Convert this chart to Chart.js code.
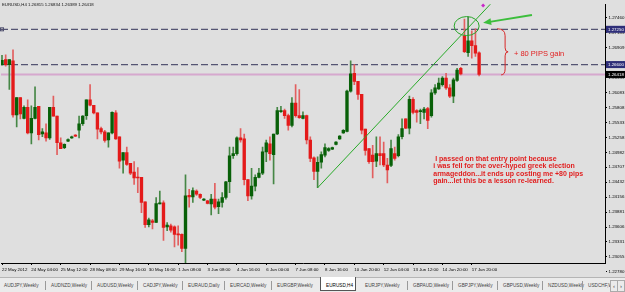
<!DOCTYPE html>
<html>
<head>
<meta charset="utf-8">
<script src="https://cdn.jsdelivr.net/npm/chart.js@4.4.0/dist/chart.umd.min.js"></script>
<style>
  html, body { margin: 0; padding: 0; background: #dfdfdf; }
  #wrap { position: relative; width: 625px; height: 292px; overflow: hidden; background: #dfdfdf; }
  #c { position: absolute; left: 0; top: 0; }
  #tabs { position: absolute; left: 0; top: 277px; width: 625px; height: 15px; background: #ebebeb;
          border-top: 1px solid #b5b5b5; font: 4.7px "Liberation Sans", Arial, sans-serif; color: #444; }
  .tab { position: absolute; top: 4.5px; white-space: nowrap; }
  .sep { position: absolute; top: 3px; width: 1px; height: 9px; background: #9a9a9a; }
  .act { position: absolute; top: -1px; left: 320px; width: 34px; height: 13px; background: #fff;
         border: 1px solid #555; border-top: none; }
  .arr { position: absolute; top: 2px; width: 6px; height: 10px; background: #ebebeb; border: 1px solid #aaa;
         font-size: 6px; line-height: 10px; text-align: center; }
</style>
</head>
<body>
<div id="wrap">
  <canvas id="c" width="625" height="277"></canvas>
  <div id="tabs"></div>
</div>
<script>
// EURUSD H4 candles, oldest first
const open = [
  1.2660, 1.2669, 1.2660, 1.2667, 1.2567, 1.2599, 1.2561, 1.2581, 1.2534, 1.2561,
  1.2583, 1.2532, 1.2534, 1.2525, 1.2581, 1.2565, 1.2516, 1.2507, 1.2519, 1.2525,
  1.2530, 1.2539, 1.2551, 1.2566, 1.2595, 1.2585, 1.2571, 1.2542, 1.2536, 1.2521,
  1.2534, 1.2571, 1.2527, 1.2484, 1.2498, 1.2478, 1.2462, 1.2452, 1.2452, 1.2407,
  1.2365, 1.2372, 1.2369, 1.2403, 1.2405, 1.2361, 1.2363, 1.2361, 1.2347, 1.2347,
  1.2321, 1.2419, 1.2416, 1.2427, 1.2421, 1.2410, 1.2409, 1.2403, 1.2412, 1.2398,
  1.2406, 1.2415, 1.2444, 1.2492, 1.2496, 1.2525, 1.2523, 1.2448, 1.2418, 1.2436,
  1.2452, 1.2460, 1.2499, 1.2514, 1.2494, 1.2532, 1.2573, 1.2575, 1.2566, 1.2548,
  1.2589, 1.2566, 1.2561, 1.2566, 1.2521, 1.2488, 1.2463, 1.2480, 1.2493, 1.2502,
  1.2504, 1.2513, 1.2523, 1.2534, 1.2537, 1.2611, 1.2644, 1.2629, 1.2605, 1.2541,
  1.2505, 1.2493, 1.2482, 1.2496, 1.2496, 1.2475, 1.2474, 1.2496, 1.2492, 1.2527,
  1.2560, 1.2543, 1.2596, 1.2575, 1.2573, 1.2572, 1.2579, 1.2566, 1.2608, 1.2615,
  1.2623, 1.2635, 1.2617, 1.2602, 1.2631, 1.2653, 1.2713, 1.2682, 1.2704, 1.2695,
  1.26815
];
const high = [
  1.2677, 1.2678, 1.2669, 1.2687, 1.2599, 1.2599, 1.2584, 1.2595, 1.2584, 1.2619,
  1.2583, 1.2542, 1.2551, 1.2581, 1.2602, 1.2565, 1.2525, 1.2514, 1.2523, 1.2528,
  1.2531, 1.2565, 1.2566, 1.2595, 1.2623, 1.2585, 1.2571, 1.2545, 1.2539, 1.2534,
  1.2573, 1.2575, 1.2527, 1.2498, 1.2508, 1.2478, 1.2481, 1.2470, 1.2452, 1.2407,
  1.2377, 1.2375, 1.2415, 1.2427, 1.2409, 1.2369, 1.2366, 1.2363, 1.2363, 1.2348,
  1.2457, 1.2430, 1.2433, 1.2429, 1.2422, 1.2413, 1.2410, 1.2421, 1.2441, 1.2412,
  1.2424, 1.2445, 1.2508, 1.2508, 1.2527, 1.2542, 1.2532, 1.2448, 1.2469, 1.2457,
  1.2469, 1.2508, 1.2521, 1.2527, 1.2532, 1.2581, 1.2583, 1.2578, 1.2569, 1.2599,
  1.2623, 1.2614, 1.2573, 1.2567, 1.2527, 1.2490, 1.2490, 1.2499, 1.2514, 1.2507,
  1.2508, 1.2518, 1.2529, 1.2540, 1.2613, 1.2667, 1.2660, 1.2629, 1.2605, 1.2541,
  1.2505, 1.2511, 1.2527, 1.2527, 1.2517, 1.2487, 1.2521, 1.2508, 1.2531, 1.2560,
  1.2560, 1.2602, 1.2599, 1.2577, 1.2578, 1.2581, 1.2581, 1.2614, 1.2623, 1.2635,
  1.2638, 1.2644, 1.2623, 1.2635, 1.2653, 1.2655, 1.2744, 1.2748, 1.2722, 1.2726,
  1.26834
];
const low = [
  1.2659, 1.2657, 1.2614, 1.2563, 1.2545, 1.2560, 1.2560, 1.2532, 1.2514, 1.2560,
  1.2521, 1.2527, 1.2519, 1.2522, 1.2565, 1.2494, 1.2505, 1.2505, 1.2518, 1.2524,
  1.2527, 1.2525, 1.2548, 1.2559, 1.2584, 1.2569, 1.2523, 1.2532, 1.2517, 1.2508,
  1.2532, 1.2522, 1.2469, 1.2460, 1.2474, 1.2457, 1.2439, 1.2424, 1.2387, 1.2360,
  1.2361, 1.2357, 1.2369, 1.2403, 1.2336, 1.2354, 1.2351, 1.2324, 1.2327, 1.2315,
  1.2291, 1.2397, 1.2406, 1.2419, 1.2413, 1.2409, 1.2403, 1.2383, 1.2394, 1.2385,
  1.2397, 1.2412, 1.2424, 1.2487, 1.2493, 1.2517, 1.2438, 1.2409, 1.2412, 1.2427,
  1.2451, 1.2457, 1.2481, 1.2484, 1.2440, 1.2531, 1.2572, 1.2561, 1.2539, 1.2545,
  1.2563, 1.2561, 1.2560, 1.2514, 1.2481, 1.2448, 1.2433, 1.2469, 1.2490, 1.2500,
  1.2503, 1.2512, 1.2522, 1.2533, 1.2536, 1.2609, 1.2623, 1.2596, 1.2532, 1.2493,
  1.2478, 1.2451, 1.2472, 1.2475, 1.2472, 1.2442, 1.2472, 1.2484, 1.2490, 1.2523,
  1.2542, 1.2532, 1.2569, 1.2554, 1.2551, 1.2560, 1.2542, 1.2563, 1.2605, 1.2614,
  1.2620, 1.2614, 1.2599, 1.2590, 1.2629, 1.2641, 1.2682, 1.2675, 1.2672, 1.2675,
  1.26389
];
const close = [
  1.2668, 1.2660, 1.2669, 1.2567, 1.2599, 1.2569, 1.2581, 1.2534, 1.2561, 1.2581,
  1.2531, 1.2536, 1.2525, 1.2581, 1.2565, 1.2516, 1.2505, 1.2513, 1.2522, 1.2527,
  1.2528, 1.2551, 1.2565, 1.2595, 1.2585, 1.2571, 1.2541, 1.2536, 1.2520, 1.2534,
  1.2572, 1.2523, 1.2482, 1.2498, 1.2476, 1.2460, 1.2451, 1.2451, 1.2406, 1.2365,
  1.2374, 1.2369, 1.2404, 1.2405, 1.2360, 1.2364, 1.2355, 1.2347, 1.2346, 1.2321,
  1.2418, 1.2416, 1.2428, 1.2421, 1.2415, 1.2412, 1.2404, 1.2412, 1.2397, 1.2407,
  1.2415, 1.2444, 1.2492, 1.2496, 1.2525, 1.2521, 1.2448, 1.2418, 1.2436, 1.2452,
  1.2460, 1.2499, 1.2516, 1.2496, 1.2532, 1.2575, 1.2575, 1.2566, 1.2548, 1.2589,
  1.2566, 1.2562, 1.2566, 1.2521, 1.2487, 1.2463, 1.2480, 1.2494, 1.2507, 1.2505,
  1.2507, 1.2517, 1.2528, 1.2539, 1.2611, 1.2643, 1.2629, 1.2605, 1.2539, 1.2502,
  1.2481, 1.2481, 1.2496, 1.2492, 1.2475, 1.2466, 1.2505, 1.2487, 1.2527, 1.2542,
  1.2543, 1.2596, 1.2572, 1.2572, 1.2575, 1.2578, 1.2557, 1.2608, 1.2617, 1.2626,
  1.2635, 1.2617, 1.2602, 1.2632, 1.2650, 1.2643, 1.2684, 1.2704, 1.2695, 1.2681,
  1.26418
];

const timeLabels = ["22 May 2012", "24 May 04:00", "25 May 12:00", "28 May 08:00", "29 May 16:00",
  "30 May 16:00", "1 Jun 08:00", "3 Jun 08:00", "4 Jun 16:00", "6 Jun 00:00", "7 Jun 08:00",
  "8 Jun 16:00", "10 Jun 20:00", "12 Jun 04:00", "13 Jun 12:00", "14 Jun 20:00", "17 Jun 20:00"];
const timeBars = [1, 9, 17, 25, 33, 41, 49, 57, 65, 73, 81, 89, 97, 105, 113, 121, 129];

const priceTicks = ["1.27460", "1.27185", "1.26909", "1.26634", "1.26359", "1.26083", "1.25808",
  "1.25533", "1.25258", "1.24982", "1.24707", "1.24432", "1.24156", "1.23881", "1.23606",
  "1.23331", "1.23055", "1.22780"];

// horizontal levels drawn on the chart
const entryLevel = 1.27250;
const supportLevel = 1.26600;
const bidLevel = close[close.length - 1];

// trend line from the 14 Jun low up through the gap
const trendFrom = { bar: 87, price: 1.2433 };
const trendTo = { bar: 140, price: 1.2814 };

const tabNames = ["AUDJPY,Weekly", "AUDNZD,Weekly", "AUDUSD,Weekly", "CADJPY,Weekly", "EURAUD,Daily",
  "EURCAD,Weekly", "EURGBP,Weekly", "EURUSD,H4", "EURJPY,Weekly", "GBPAUD,Weekly", "GBPJPY,Weekly",
  "GBPUSD,Weekly", "NZDUSD,Weekly", "USDCHF,Weekly"];
const tabLeft = [4, 51, 97, 143, 188, 230, 277, 326, 365, 413, 458, 503, 548, 588];

const noteLines = [" I passed on that entry point because", "i was fell for the over-hyped greek election",
  "armageddon...it ends up costing me +80 pips", "gain...let this be a lesson re-learned."];

const X_MIN = 0.728, X_MAX = 165.3;
const Y_MIN = 1.22943, Y_MAX = 1.27714;

const GREEN = "rgb(8,96,8)", RED = "rgb(228,26,26)";
const GREEN_W = "rgb(70,135,70)", RED_W = "rgb(226,95,95)";

const bars = open.map((_, i) => i + 1);
const isUp = open.map((o, i) => close[i] >= o);

// tab strip
const tabs = document.getElementById("tabs");
tabs.innerHTML = '<div class="act"></div>';
tabNames.forEach((name, i) => {
  const t = document.createElement("div");
  t.className = "tab";
  t.style.left = tabLeft[i] + "px";
  t.textContent = name;
  if (name === "EURUSD,H4") t.style.color = "#000";
  tabs.appendChild(t);
  if (i < tabNames.length - 1 && i !== 6 && i !== 7) {
    const s = document.createElement("div");
    s.className = "sep";
    s.style.left = (tabLeft[i + 1] - 6) + "px";
    tabs.appendChild(s);
  }
});
tabs.insertAdjacentHTML("beforeend",
  '<div class="arr" style="left:610px">&#8249;</div><div class="arr" style="left:617px">&#8250;</div>');

const extras = {
  id: "extras",
  afterDraw(chart) {
    const { ctx, scales: { x, y } } = chart;
    const px = (v) => x.getPixelForValue(v);
    const py = (v) => y.getPixelForValue(v);
    ctx.save();

    // symbol header
    ctx.fillStyle = "#111";
    ctx.font = '4.3px "Liberation Sans", Arial, sans-serif';
    ctx.textBaseline = "middle";
    ctx.textAlign = "left";
    ctx.fillText("EURUSD,H4 1.26815 1.26834 1.26389 1.26418", 2, 5);

    // start marker of the upper level line
    ctx.strokeStyle = "rgb(80,80,110)";
    ctx.lineWidth = 1;
    ctx.strokeRect(0.5, py(entryLevel) - 1.5, 3, 3);

    // circle around the missed entry
    ctx.strokeStyle = "rgb(40,165,40)";
    ctx.lineWidth = 1;
    ctx.beginPath();
    ctx.ellipse(px(127.6), py(1.2731), 12.5, 9.5, 0, 0, Math.PI * 2);
    ctx.stroke();

    // arrow pointing at it
    const ax0 = px(145.4), ay0 = py(1.27514), ax1 = px(132.1), ay1 = py(1.27369);
    const ang = Math.atan2(ay1 - ay0, ax1 - ax0);
    ctx.strokeStyle = "rgb(60,190,60)";
    ctx.fillStyle = "rgb(60,190,60)";
    ctx.lineWidth = 1.8;
    ctx.beginPath();
    ctx.moveTo(ax0, ay0);
    ctx.lineTo(ax1 - 5 * Math.cos(ang), ay1 - 5 * Math.sin(ang));
    ctx.stroke();
    ctx.beginPath();
    ctx.moveTo(ax1, ay1);
    ctx.lineTo(ax1 - 8 * Math.cos(ang) + 3.5 * Math.sin(ang), ay1 - 8 * Math.sin(ang) - 3.5 * Math.cos(ang));
    ctx.lineTo(ax1 - 8 * Math.cos(ang) - 3.5 * Math.sin(ang), ay1 - 8 * Math.sin(ang) + 3.5 * Math.cos(ang));
    ctx.closePath();
    ctx.fill();

    // magenta handle at the top
    ctx.fillStyle = "rgb(200,40,200)";
    ctx.beginPath();
    const mx = px(132.1), my = py(1.27687);
    ctx.moveTo(mx, my - 2); ctx.lineTo(mx + 2, my); ctx.lineTo(mx, my + 2); ctx.lineTo(mx - 2, my);
    ctx.closePath(); ctx.fill();

    // brace for the gain
    const bx = px(135.9), yt = py(1.2726), yb = py(1.2641), ym = (yt + yb) / 2;
    ctx.strokeStyle = "rgb(215,40,40)";
    ctx.lineWidth = 1;
    ctx.beginPath();
    ctx.moveTo(bx, yt);
    ctx.quadraticCurveTo(bx + 8, yt, bx + 8, yt + 7);
    ctx.lineTo(bx + 8, ym - 4);
    ctx.quadraticCurveTo(bx + 8, ym, bx + 11, ym);
    ctx.quadraticCurveTo(bx + 8, ym, bx + 8, ym + 4);
    ctx.lineTo(bx + 8, yb - 6);
    ctx.quadraticCurveTo(bx + 8, yb, bx + 4, yb);
    ctx.stroke();

    ctx.fillStyle = "rgb(225,30,30)";
    ctx.font = '7.5px "Liberation Sans", Arial, sans-serif';
    ctx.fillText("+ 80 PIPS gain", px(140.5), py(1.26789));

    ctx.font = 'bold 7px "Liberation Sans", Arial, sans-serif';
    const nx = px(118.5), ny = py(1.24866);
    noteLines.forEach((t, i) => ctx.fillText(t, nx, ny + i * 7.5));

    // price boxes on the axis
    const boxes = [
      { v: entryLevel, bg: "rgb(45,45,120)", txt: "1.27250" },
      { v: supportLevel, bg: "rgb(45,45,120)", txt: "1.26600" },
      { v: bidLevel, bg: "#000", txt: "1.26418" }
    ];
    ctx.font = '4.4px "Liberation Sans", Arial, sans-serif';
    boxes.forEach((b) => {
      const yy = py(b.v);
      ctx.fillStyle = b.bg;
      ctx.fillRect(606, yy - 3.5, 19, 7);
      ctx.fillStyle = "#fff";
      ctx.fillText(b.txt, 608, yy);
    });
    ctx.restore();
  }
};

const levelLine = (v, color, width, dash) => ({
  type: "line",
  data: [{ x: X_MIN, y: v }, { x: X_MAX, y: v }],
  borderColor: color,
  borderWidth: width,
  borderDash: dash,
  pointRadius: 0,
  order: 3
});

new Chart(document.getElementById("c"), {
  type: "bar",
  data: {
    datasets: [
      levelLine(bidLevel, "rgb(214,168,206)", 2, []),
      levelLine(entryLevel, "rgb(85,85,115)", 1.2, [7, 3]),
      levelLine(supportLevel, "rgb(85,85,115)", 1.2, [7, 3]),
      {
        label: "wicks",
        data: bars.map((b, i) => ({ x: b, y: [low[i], high[i]] })),
        backgroundColor: isUp.map((u) => (u ? GREEN_W : RED_W)),
        barThickness: 1,
        grouped: false,
        order: 2
      },
      {
        label: "bodies",
        data: bars.map((b, i) => ({ x: b, y: [open[i], close[i]] })),
        backgroundColor: isUp.map((u) => (u ? GREEN : RED)),
        barThickness: 2.7,
        minBarLength: 1,
        grouped: false,
        order: 1
      },
      {
        type: "line",
        label: "trend",
        data: [{ x: trendFrom.bar, y: trendFrom.price }, { x: trendTo.bar, y: trendTo.price }],
        borderColor: "rgb(40,170,40)",
        borderWidth: 1,
        pointRadius: 0,
        order: 0
      }
    ]
  },
  options: {
    responsive: false,
    animation: false,
    devicePixelRatio: 1,
    layout: { padding: 0 },
    plugins: { legend: { display: false }, tooltip: { enabled: false } },
    scales: {
      x: {
        type: "linear",
        min: X_MIN,
        max: X_MAX,
        offset: false,
        grid: { display: true, drawOnChartArea: false, tickLength: 2, color: "#000", offset: false },
        border: { display: true, color: "#000" },
        afterBuildTicks: (s) => { s.ticks = timeBars.map((v) => ({ value: v })); },
        afterFit: (s) => { s.height = 14; },
        ticks: {
          autoSkip: false, maxRotation: 0, align: "start", padding: 2, color: "#000",
          font: { size: 4.4, family: '"Liberation Sans", Arial, sans-serif' },
          callback: (v, i) => timeLabels[i]
        }
      },
      y: {
        type: "linear",
        position: "right",
        min: Y_MIN,
        max: Y_MAX,
        grid: { display: true, drawOnChartArea: false, tickLength: 2, color: "#000" },
        border: { display: true, color: "#000" },
        afterBuildTicks: (s) => { s.ticks = priceTicks.map((t) => ({ value: parseFloat(t) })); },
        afterFit: (s) => { s.width = 20; },
        ticks: {
          autoSkip: false, padding: 1.5, color: "#000",
          font: { size: 4.4, family: '"Liberation Sans", Arial, sans-serif' },
          callback: (v, i) => priceTicks[i]
        }
      }
    }
  },
  plugins: [extras]
});
</script>
</body>
</html>
